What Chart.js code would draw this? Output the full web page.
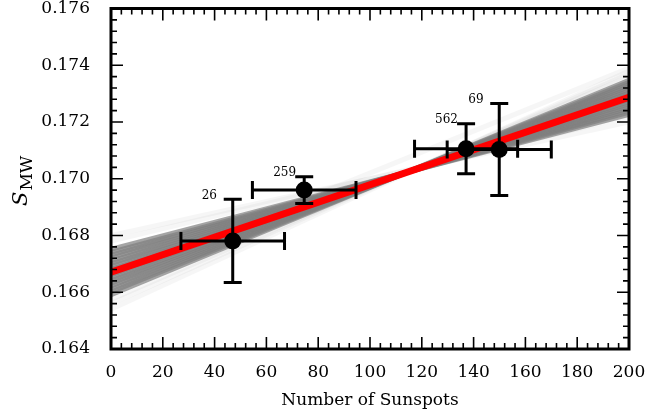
<!DOCTYPE html>
<html>
<head>
<meta charset="utf-8">
<script src="https://cdn.jsdelivr.net/npm/chart.js@4"></script>
<style>
  html, body { margin: 0; padding: 0; background: #fff; }
</style>
</head>
<body>
<canvas id="chart" width="671" height="418"></canvas>
<script>
// measured points: sunspot number vs S_MW, with error bars and number of observations
const sunspots = [47, 74.6, 137.1, 149.9];
const sunspotErr = [20, 20, 19.9, 20.1];
const smw = [0.16781, 0.16960, 0.17106, 0.17103];
const smwErr = [0.00147, 0.00047, 0.00088, 0.00162];
const nObs = ['26', '259', '562', '69'];

// best fit line (red), at x = 0 and x = 200
const fitX = [0, 200];
const fitY = [0.16671, 0.17287];

// sampled fit lines making up the grey band (value at x=0, value at x=200)
const bandStart = [0.16591, 0.16601, 0.16611, 0.16621, 0.16631, 0.16641, 0.16651, 0.16661, 0.16671,
                   0.16681, 0.16691, 0.16701, 0.16711, 0.16721, 0.16731, 0.16741, 0.16751];
const bandEnd   = [0.17347, 0.17340, 0.17332, 0.17325, 0.17317, 0.17310, 0.17302, 0.17295, 0.17287,
                   0.17280, 0.17272, 0.17265, 0.17257, 0.17250, 0.17242, 0.17235, 0.17227];
const faintStart = [0.16540, 0.16560, 0.16575, 0.16650, 0.16780, 0.16800];
const faintEnd   = [0.17380, 0.17370, 0.17360, 0.17390, 0.17220, 0.17200];

const xMajor = [0, 20, 40, 60, 80, 100, 120, 140, 160, 180, 200];
const yMajor = [0.164, 0.166, 0.168, 0.170, 0.172, 0.174, 0.176];

const serif = 'DejaVu Serif';
const isMajor = (v, list) => list.some(m => Math.abs(m - v) < 1e-7);

const datasets = [
  {
    data: sunspots.map((x, i) => ({ x, y: smw[i] })),
    pointRadius: 8.5, pointBackgroundColor: '#000', pointBorderWidth: 0,
    showLine: false, order: 0
  },
  {
    data: fitX.map((x, i) => ({ x, y: fitY[i] })),
    showLine: true, borderColor: '#ff0000', borderWidth: 7, pointRadius: 0, order: 1
  }
];
bandStart.forEach((s, i) => datasets.push({
  data: [{ x: fitX[0], y: s }, { x: fitX[1], y: bandEnd[i] }],
  showLine: true, borderColor: 'rgba(127,127,127,0.7)', borderWidth: 5, pointRadius: 0, order: 2
}));
faintStart.forEach((s, i) => datasets.push({
  data: [{ x: fitX[0], y: s }, { x: fitX[1], y: faintEnd[i] }],
  showLine: true, borderColor: 'rgba(127,127,127,0.07)', borderWidth: 5, pointRadius: 0, order: 3
}));

const decor = {
  id: 'decor',
  afterDatasetsDraw(chart) {
    const { ctx, chartArea: a } = chart;
    const xs = chart.scales.x, ys = chart.scales.y;
    ctx.save();
    ctx.strokeStyle = '#000';

    // error bars
    ctx.lineWidth = 3;
    sunspots.forEach((x, i) => {
      const px = xs.getPixelForValue(x), py = ys.getPixelForValue(smw[i]);
      const x0 = xs.getPixelForValue(x - sunspotErr[i]), x1 = xs.getPixelForValue(x + sunspotErr[i]);
      const y0 = ys.getPixelForValue(smw[i] - smwErr[i]), y1 = ys.getPixelForValue(smw[i] + smwErr[i]);
      ctx.beginPath();
      ctx.moveTo(x0, py); ctx.lineTo(x1, py);
      ctx.moveTo(px, y0); ctx.lineTo(px, y1);
      ctx.moveTo(x0, py - 9); ctx.lineTo(x0, py + 9);
      ctx.moveTo(x1, py - 9); ctx.lineTo(x1, py + 9);
      ctx.moveTo(px - 9, y0); ctx.lineTo(px + 9, y0);
      ctx.moveTo(px - 9, y1); ctx.lineTo(px + 9, y1);
      ctx.stroke();
      // observation count
      ctx.fillStyle = '#000';
      ctx.font = `12px "${serif}"`;
      ctx.textAlign = 'left';
      ctx.textBaseline = 'alphabetic';
      ctx.fillText(nObs[i], px - 31, y1 - 0.5);
    });

    // inward ticks on all four sides
    ctx.lineWidth = 1.6;
    ctx.beginPath();
    xs.ticks.forEach(t => {
      const p = xs.getPixelForValue(t.value);
      const len = isMajor(t.value, xMajor) ? 12 : 6;
      ctx.moveTo(p, a.bottom); ctx.lineTo(p, a.bottom - len);
      ctx.moveTo(p, a.top); ctx.lineTo(p, a.top + len);
    });
    ys.ticks.forEach(t => {
      const p = ys.getPixelForValue(t.value);
      const len = isMajor(t.value, yMajor) ? 12 : 6;
      ctx.moveTo(a.left, p); ctx.lineTo(a.left + len, p);
      ctx.moveTo(a.right, p); ctx.lineTo(a.right - len, p);
    });
    ctx.stroke();

    // frame
    ctx.lineWidth = 3;
    ctx.strokeRect(a.left, a.top, a.right - a.left, a.bottom - a.top);

    // y axis title: S_MW
    ctx.translate(27, 206);
    ctx.rotate(-Math.PI / 2);
    ctx.fillStyle = '#000';
    ctx.textAlign = 'left';
    ctx.textBaseline = 'alphabetic';
    ctx.font = `italic 21px "${serif}"`;
    ctx.fillText('S', 0, 0);
    const w = ctx.measureText('S').width;
    ctx.font = `17px "${serif}"`;
    ctx.fillText('MW', w + 1, 5);
    ctx.restore();
  }
};

new Chart(document.getElementById('chart'), {
  type: 'scatter',
  data: { datasets },
  options: {
    responsive: false,
    animation: false,
    layout: { padding: { left: 0, top: 8, right: 42, bottom: 0 } },
    plugins: { legend: { display: false }, tooltip: { enabled: false } },
    scales: {
      x: {
        type: 'linear', min: 0, max: 200,
        grid: { display: false }, border: { display: false },
        ticks: {
          stepSize: 4, autoSkip: false, maxRotation: 0, padding: 5,
          color: '#000', font: { family: serif, size: 17 },
          callback: v => isMajor(v, xMajor) ? String(Math.round(v)) : ''
        },
        title: {
          display: true, text: 'Number of Sunspots', color: '#000',
          font: { family: serif, size: 17 }, padding: { top: 0, bottom: 7 }
        },
        afterFit: s => { s.height = 69; s.paddingLeft = 0; s.paddingRight = 0; }
      },
      y: {
        type: 'linear', min: 0.164, max: 0.176,
        grid: { display: false }, border: { display: false },
        ticks: {
          stepSize: 0.0004, autoSkip: false, padding: 13,
          color: '#000', font: { family: serif, size: 17 },
          callback: v => isMajor(v, yMajor) ? v.toFixed(3) : ''
        },
        afterFit: s => { s.width = 111; s.paddingTop = 0; s.paddingBottom = 0; }
      }
    }
  },
  plugins: [decor]
});
</script>
</body>
</html>
